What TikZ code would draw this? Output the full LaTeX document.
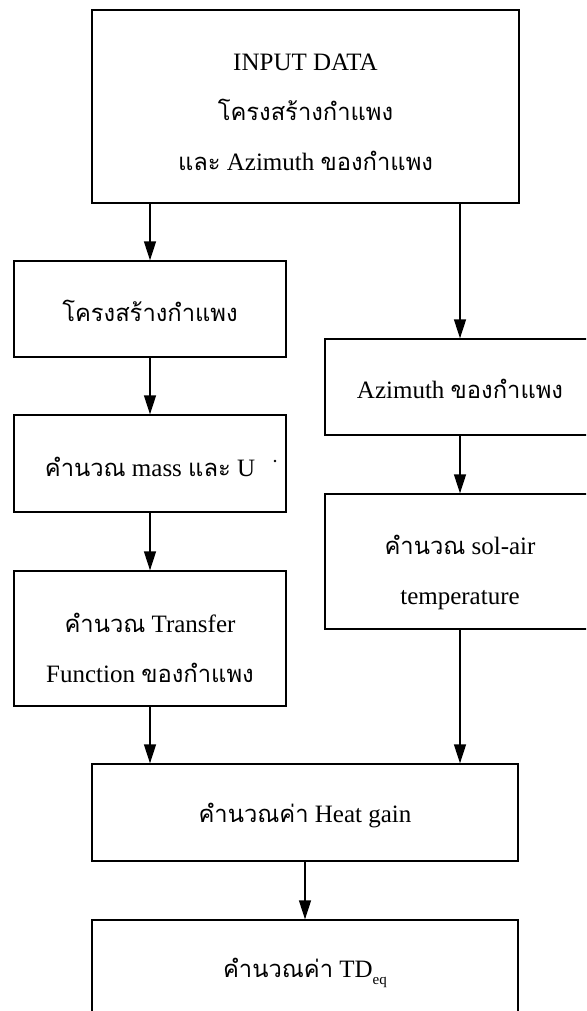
\documentclass[tikz,border=0pt]{standalone}
\usepackage{fontspec}
\setmainfont{Liberation Serif}
\newfontfamily\thaifont[Script=Thai,Scale=0.95]{Loma}
\usetikzlibrary{arrows.meta}
\newcommand\tha[1]{{\thaifont #1}}
\begin{document}
\begin{tikzpicture}[x=1pt,y=-1pt,
  box/.style={draw, line width=1.3pt, inner sep=0pt},
  txt/.style={inner sep=0pt, align=center, font=\fontsize{25}{50}\selectfont},
  arr/.style={line width=1.3pt, -{Triangle[length=19pt,width=12pt]}}]
\useasboundingbox (0,0) rectangle (586,1011);
\clip (0,0) rectangle (586,1011);
\fill[white] (0,0) rectangle (586,1011);
% boxes
\node[box, minimum width=427pt, minimum height=193pt] (top) at (305.5,106.5) {};
\node[box, minimum width=272pt, minimum height=96pt] (wall) at (150,309) {};
\node[box, minimum width=272pt, minimum height=97pt] (mass) at (150,463.5) {};
\node[box, minimum width=272pt, minimum height=135pt] (tf) at (150,638.5) {};
\node[box, minimum width=270pt, minimum height=96pt] (az) at (460,387) {};
\node[box, minimum width=270pt, minimum height=135pt] (sol) at (460,561.5) {};
\node[box, minimum width=426pt, minimum height=97pt] (heat) at (305,812.5) {};
\node[box, minimum width=426pt, minimum height=98pt] (td) at (305,969) {};
% texts
\node[txt] (topT) at ([yshift=-6pt]top.center)
  {INPUT DATA\\ \tha{โครงสร้างกำแพง}\\ \tha{และ} Azimuth \tha{ของกำแพง}};
\node[txt] (wallT) at ([yshift=-2pt]wall.center) {\tha{โครงสร้างกำแพง}};
\node[txt] (massT) at ([yshift=-3pt]mass.center) {\tha{คำนวณ} mass \tha{และ} U};
\node[txt] (tfT) at ([yshift=-9pt]tf.center) {\tha{คำนวณ} Transfer\\ Function \tha{ของกำแพง}};
\node[txt] (azT) at ([yshift=-2pt]az.center) {Azimuth \tha{ของกำแพง}};
\node[txt] (solT) at ([yshift=-11pt]sol.center) {\tha{คำนวณ} sol-air\\ temperature};
\node[txt] (heatT) at ([yshift=-3pt]heat.center) {\tha{คำนวณค่า} Heat gain};
\node[txt] (tdT) at ([yshift=-4pt]td.center)
  {\tha{คำนวณค่า} TD{\fontsize{15}{15}\selectfont\raisebox{-7pt}{eq}}};
\fill (275,461) circle (1.4pt);
% connectors
\draw[arr] (top.south -| wall.north) -- (wall.north);
\draw[arr] (top.south -| az.north) -- (az.north);
\draw[arr] (wall) -- (mass);
\draw[arr] (mass) -- (tf);
\draw[arr] (az) -- (sol);
\draw[arr] (tf.south) -- (tf.south |- heat.north);
\draw[arr] (sol.south) -- (sol.south |- heat.north);
\draw[arr] (heat) -- (td);
\end{tikzpicture}
\end{document}
